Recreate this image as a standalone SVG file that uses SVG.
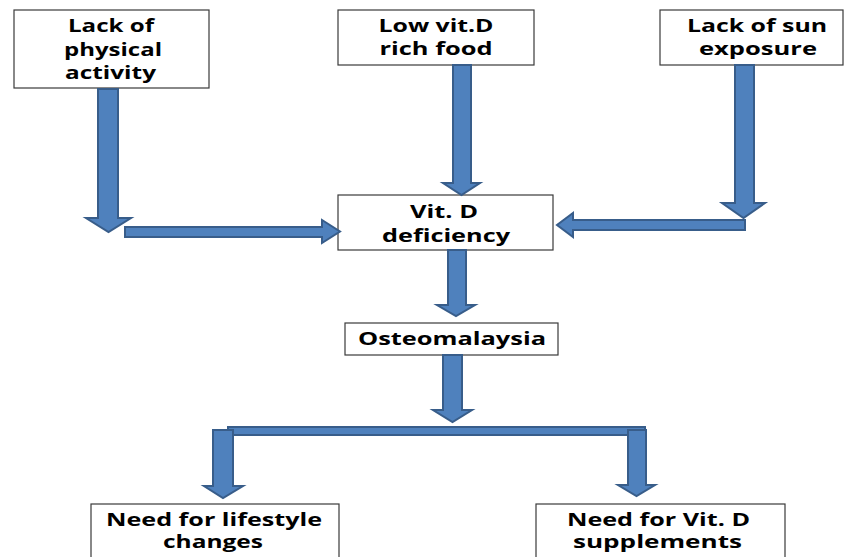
<svg xmlns="http://www.w3.org/2000/svg" width="844" height="557" viewBox="0 0 844 557">
<style>
.box{fill:#fff;stroke:#3a3a3a;stroke-width:1.2}
.t{font-family:"Open Sans","Liberation Sans",sans-serif;font-weight:700;font-size:18px;fill:#000;text-anchor:middle}
.s{font-size:17px}
.ar{fill:#4F81BD;stroke:#385D8A;stroke-width:2;stroke-linejoin:miter}
</style>
<rect width="844" height="557" fill="#fff"/>
<g id="n1"><rect class="box" x="14" y="10" width="195" height="78"/>
<text class="t" x="111" y="32" textLength="86" lengthAdjust="spacingAndGlyphs">Lack of</text>
<text class="t" x="113" y="56" textLength="98" lengthAdjust="spacingAndGlyphs">physical</text>
<text class="t" x="110.5" y="79" textLength="91" lengthAdjust="spacingAndGlyphs">activity</text></g>
<g id="n2"><rect class="box" x="338" y="10" width="196" height="55"/>
<text class="t" x="436" y="32" textLength="115" lengthAdjust="spacingAndGlyphs">Low vit.D</text>
<text class="t" x="436" y="55" textLength="113" lengthAdjust="spacingAndGlyphs">rich food</text></g>
<g id="n3"><rect class="box" x="660" y="10" width="183" height="55"/>
<text class="t" x="757" y="32" textLength="140" lengthAdjust="spacingAndGlyphs">Lack of sun</text>
<text class="t" x="758" y="55" textLength="118" lengthAdjust="spacingAndGlyphs">exposure</text></g>
<g id="n4"><rect class="box" x="338" y="195" width="215" height="55"/>
<text class="t" x="444" y="218" textLength="68" lengthAdjust="spacingAndGlyphs">Vit. D</text>
<text class="t" x="446" y="242" textLength="128" lengthAdjust="spacingAndGlyphs">deficiency</text></g>
<g id="n5"><rect class="box" x="345" y="323" width="213" height="32"/>
<text class="t" x="452" y="345" textLength="188" lengthAdjust="spacingAndGlyphs">Osteomalaysia</text></g>
<g id="n6"><rect class="box" x="91" y="504" width="248" height="60"/>
<text class="t s" x="214" y="526" textLength="216" lengthAdjust="spacingAndGlyphs">Need for lifestyle</text>
<text class="t s" x="213" y="548" textLength="100" lengthAdjust="spacingAndGlyphs">changes</text></g>
<g id="n7"><rect class="box" x="536" y="504" width="249" height="60"/>
<text class="t s" x="658.5" y="526" textLength="183" lengthAdjust="spacingAndGlyphs">Need for Vit. D</text>
<text class="t s" x="657.5" y="548" textLength="169" lengthAdjust="spacingAndGlyphs">supplements</text></g>
<g id="connectors">
<polygon class="ar" points="98,89 118,89 118,218 131,218 108.5,232 86,218 98,218"/>
<polygon class="ar" points="125,227 322,227 322,220 340,231.5 322,243 322,237 125,237"/>
<polygon class="ar" points="453,65 471,65 471,183 480,183 461.5,195 443,183 453,183"/>
<polygon class="ar" points="735,65 754,65 754,203 765,203 743.5,218 722,203 735,203"/>
<polygon class="ar" points="745,220 573,220 573,213 557,225 573,237 573,230 745,230"/>
<polygon class="ar" points="448,250 466,250 466,305 475,305 456,316 437,305 448,305"/>
<polygon class="ar" points="443,355 462,355 462,410 472,410 452.5,422 433,410 443,410"/>
<rect class="ar" x="228" y="427" width="417" height="8"/>
<polygon class="ar" points="213,430 233,430 233,486 243,486 223,498 204,486 213,486"/>
<polygon class="ar" points="628,430 646,430 646,485 655,485 636.5,496 618,485 628,485"/>
</g>
</svg>
